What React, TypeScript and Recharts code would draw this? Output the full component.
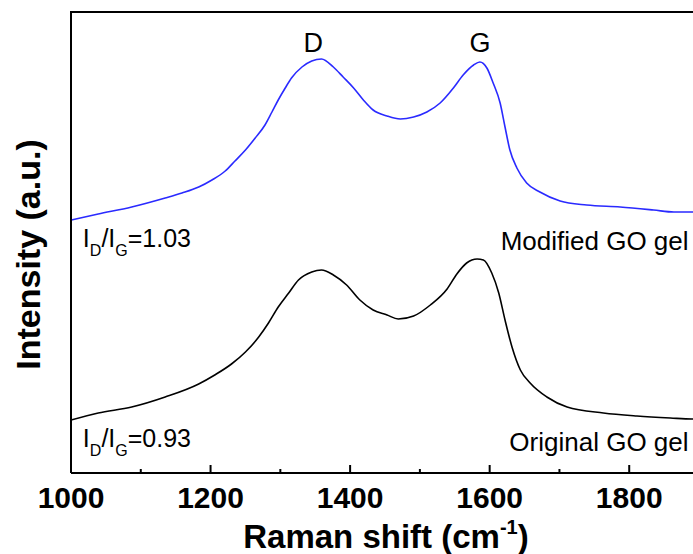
import { LineChart, Line, XAxis, YAxis, ReferenceDot, ReferenceLine } from "recharts";

const FONT = "'Liberation Sans', Arial, sans-serif";

// Raman spectra, intensity in arbitrary units
const modifiedShift = [
  1000, 1039, 1087, 1135, 1159, 1183, 1202, 1221, 1235, 1250, 1264, 1278,
  1288, 1297, 1307, 1316, 1331, 1345, 1359, 1376, 1390, 1405, 1419, 1433,
  1453, 1472, 1491, 1510, 1529, 1548, 1562, 1577, 1586, 1596, 1605, 1615,
  1622, 1629, 1639, 1653, 1672, 1701, 1739, 1787, 1835, 1864, 1890, 1900,
];
const modifiedIntensity = [
  253, 259, 266, 275, 280, 286, 293, 302, 312, 323, 335, 348,
  361, 373, 385, 395, 406, 412, 414, 406, 396, 385, 373, 363,
  357, 354, 356, 361, 370, 385, 398, 408, 411, 405, 390, 370,
  346, 323, 305, 290, 281, 272, 268, 266, 263, 261, 261, 261,
];

const originalShift = [
  1000, 1039, 1087, 1135, 1183, 1206, 1230, 1250, 1269, 1283, 1297, 1312,
  1326, 1345, 1359, 1376, 1395, 1414, 1433, 1453, 1469, 1491, 1515, 1539,
  1553, 1567, 1582, 1591, 1603, 1613, 1622, 1632, 1644, 1658, 1682, 1711,
  1763, 1811, 1859, 1890, 1900,
];
const originalIntensity = [
  53, 60, 66, 76, 89, 98, 109, 121, 136, 150, 166, 180,
  193, 201, 203, 198, 188, 173, 163, 158, 154, 157, 168, 184,
  199, 210, 214, 213, 200, 180, 153, 126, 103, 90, 76, 66,
  60, 57, 55, 54, 54,
];

const majorTicks = [1000, 1200, 1400, 1600, 1800];
const minorTicks = [1100, 1300, 1500, 1700, 1900];

const modified = modifiedShift.map((x, i) => ({ x, y: modifiedIntensity[i] }));
const original = originalShift.map((x, i) => ({ x, y: originalIntensity[i] }));

const Ratio = ({ viewBox, value }: any) => (
  <text x={viewBox.x} y={viewBox.y} fontFamily={FONT} fontSize={25} fill="#000">
    I<tspan fontSize={16} dy={9}>D</tspan>
    <tspan dy={-9}>/I</tspan>
    <tspan fontSize={16} dy={9}>G</tspan>
    <tspan dy={-9}>={value}</tspan>
  </text>
);

const Caption = ({ viewBox, value, size, anchor }: any) => (
  <text
    x={viewBox.x}
    y={viewBox.y}
    fontFamily={FONT}
    fontSize={size}
    textAnchor={anchor}
    fill="#000"
  >
    {value}
  </text>
);

const YTitle = ({ viewBox }: any) => {
  const cx = viewBox.x + 28;
  const cy = viewBox.y + viewBox.height / 2 + 12;
  return (
    <text
      x={cx}
      y={cy}
      transform={`rotate(-90, ${cx}, ${cy})`}
      textAnchor="middle"
      dy="0.36em"
      fontFamily={FONT}
      fontWeight="bold"
      fontSize={34}
      fill="#000"
    >
      Intensity (a.u.)
    </text>
  );
};

const XTitle = ({ viewBox }: any) => (
  <text
    x={386}
    y={viewBox.y + 75}
    textAnchor="middle"
    fontFamily={FONT}
    fontWeight="bold"
    fontSize={33}
    fill="#000"
  >
    Raman shift (cm<tspan fontSize={20} dy={-14}>-1</tspan>
    <tspan dy={14}>)</tspan>
  </text>
);

const App = () => {
  const tickStroke = { stroke: "#000", strokeWidth: 2 };
  return (
    <div
      style={{
        position: "absolute",
        left: 0,
        top: 0,
        width: 693,
        height: 554,
        overflow: "hidden",
        background: "#fff",
      }}
    >
      <LineChart
        width={720}
        height={554}
        data={modified}
        margin={{ top: 12, right: 21, bottom: 0, left: 0 }}
      >
        {/* bottom axis: labels plus inward major ticks */}
        <XAxis
          dataKey="x"
          type="number"
          domain={[1000, 1900]}
          allowDataOverflow
          ticks={majorTicks}
          height={81}
          tickSize={-8}
          tickMargin={22}
          tickLine={tickStroke}
          axisLine={tickStroke}
          tick={{ fill: "#000", fontSize: 30, fontWeight: "bold", fontFamily: FONT }}
          label={{ content: XTitle }}
        />
        <YAxis
          type="number"
          domain={[0, 461]}
          allowDataOverflow
          width={71}
          tick={false}
          tickLine={false}
          axisLine={tickStroke}
          label={{ content: YTitle }}
        />

        {/* minor ticks along the bottom edge */}
        {minorTicks.map((t) => (
          <ReferenceLine
            key={t}
            segment={[{ x: t, y: 0 }, { x: t, y: 4 }]}
            stroke="#000"
            strokeWidth={2}
            ifOverflow="visible"
          />
        ))}

        <Line
          dataKey="y"
          type="monotone"
          stroke="#2a2aff"
          strokeWidth={1.6}
          dot={false}
          isAnimationActive={false}
        />
        <Line
          data={original}
          dataKey="y"
          type="monotone"
          stroke="#000"
          strokeWidth={1.6}
          dot={false}
          isAnimationActive={false}
        />

        <ReferenceDot x={1347} y={421} r={0} fill="none" stroke="none"
          label={<Caption value="D" size={27} anchor="middle" />} />
        <ReferenceDot x={1586} y={421} r={0} fill="none" stroke="none"
          label={<Caption value="G" size={27} anchor="middle" />} />
        <ReferenceDot x={1017} y={226} r={0} fill="none" stroke="none"
          label={<Ratio value="1.03" />} />
        <ReferenceDot x={1017} y={26} r={0} fill="none" stroke="none"
          label={<Ratio value="0.93" />} />
        <ReferenceDot x={1885} y={223} r={0} fill="none" stroke="none"
          label={<Caption value="Modified GO gel" size={26} anchor="end" />} />
        <ReferenceDot x={1885} y={22} r={0} fill="none" stroke="none"
          label={<Caption value="Original GO gel" size={26} anchor="end" />} />
      </LineChart>
      {/* top edge of the plot frame */}
      <div
        style={{
          position: "absolute",
          left: 70,
          top: 11,
          width: 630,
          height: 2,
          background: "#000",
        }}
      />
    </div>
  );
};

export default App;
